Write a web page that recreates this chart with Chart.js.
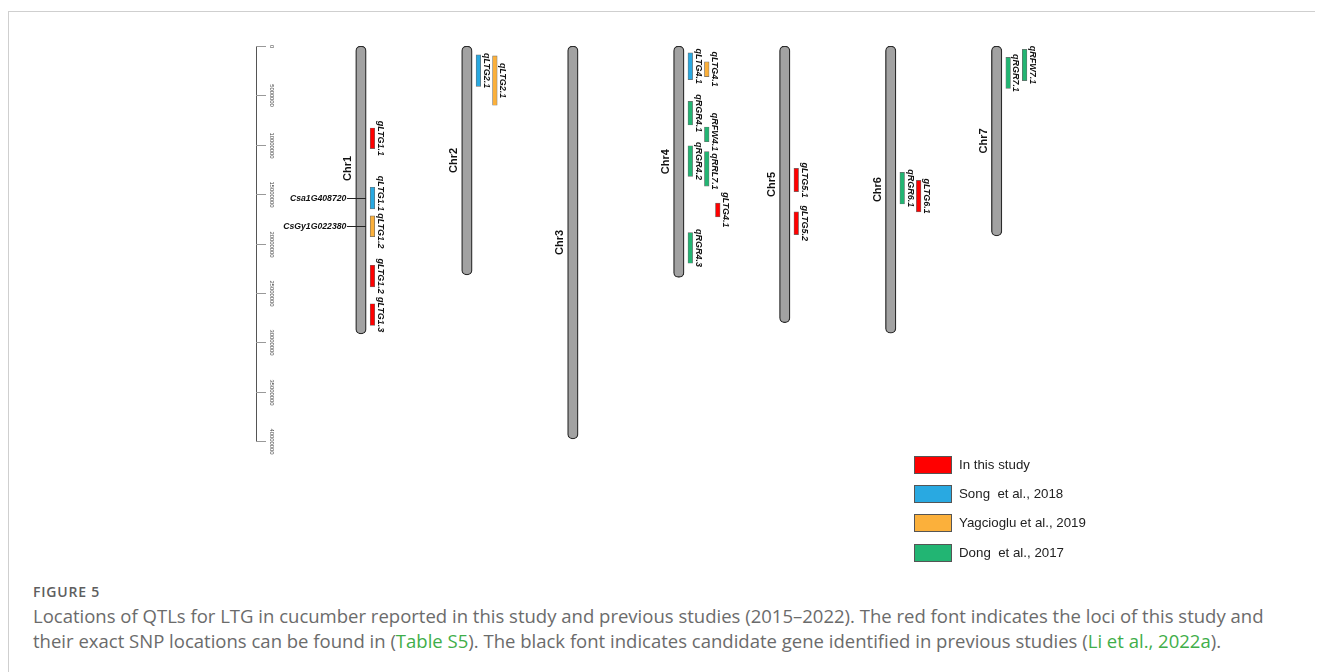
<!DOCTYPE html>
<html>
<head>
<meta charset="utf-8">
<script src="https://cdn.jsdelivr.net/npm/chart.js@4.4.0/dist/chart.umd.min.js"></script>
<style>
  html, body { margin: 0; padding: 0; background: #fff; }
  body { width: 1322px; height: 672px; position: relative; overflow: hidden; }
  #frame { position: absolute; left: 8px; top: 11px; width: 1306px; height: 700px;
           border-top: 1.5px solid #cfcfcf; border-left: 1.5px solid #cfcfcf; }
  #wrap { position: absolute; left: 0; top: 0; width: 1322px; height: 580px; }
  #cap { position: absolute; left: 33px; top: 583px; width: 1285px; color: #6b6b6b;
         font-family: "Open Sans", "Lato", sans-serif; }
  #cap .fig { font-size: 14px; font-weight: 600; color: #5e5e5e; letter-spacing: 0.8px; line-height: 18px; }
  #cap .txt { font-size: 16px; line-height: 25px; margin-top: 2px; white-space: nowrap; }
  #cap a { color: #3fae49; text-decoration: none; }
</style>
</head>
<body>
<div id="frame"></div>
<div id="wrap"><canvas id="chart" width="1322" height="580"></canvas></div>
<div id="cap">
  <div class="fig">FIGURE 5</div>
  <div class="txt"><span id="line1">Locations of QTLs for LTG in cucumber reported in this study and previous studies (2015–2022). The red font indicates the loci of this study and</span><br>their exact SNP locations can be found in (<a>Table S5</a>). The black font indicates candidate gene identified in previous studies (<a>Li et al., 2022a</a>).</div>
</div>
<script>
// chromosomes (bp)
const chrNames = ['Chr1', 'Chr2', 'Chr3', 'Chr4', 'Chr5', 'Chr6', 'Chr7'];
const chrLengths = [29149675, 23174626, 39782674, 23425844, 28023477, 29076228, 19226500];

// axis ticks
const axisTicks = [0, 5000000, 10000000, 15000000, 20000000, 25000000, 30000000, 35000000, 40000000];
const axisTickLabels = ['0', '5000000', '10000000', '15000000', '20000000', '25000000', '30000000', '35000000', '40000000'];

// sources of the QTLs (legend)
const sourceNames = ['In this study', 'Song  et al., 2018', 'Yagcioglu et al., 2019', 'Dong  et al., 2017'];
const sourceColors = ['#ff0000', '#29a9e1', '#fbb03b', '#22b573'];

// QTLs (Mb)
const qtlNames  = ['gLTG1.1', 'qLTG1.1', 'qLTG1.2', 'gLTG1.2', 'gLTG1.3', 'qLTG2.1', 'qLTG2.1', 'qLTG4.1', 'qLTG4.1', 'qRGR4.1', 'qRFW4.1', 'qRGR4.2', 'qRRL7.1', 'gLTG4.1', 'qRGR4.3', 'gLTG5.1', 'gLTG5.2', 'qRGR6.1', 'gLTG6.1', 'qRGR7.1', 'qRFW7.1'];
const qtlChr    = [1, 1, 1, 1, 1, 2, 2, 4, 4, 4, 4, 4, 4, 4, 4, 5, 5, 6, 6, 7, 7];
const qtlStart  = [8.3, 14.3, 17.2, 22.2, 26.1, 0.9, 1.0, 0.7, 1.6, 5.6, 8.2, 10.1, 10.7, 15.9, 18.9, 12.4, 16.8, 12.8, 13.6, 1.15, 0.33];
const qtlEnd    = [10.4, 16.5, 19.3, 24.4, 28.3, 4.1, 6.0, 3.4, 3.1, 8.0, 9.7, 13.2, 14.2, 17.3, 22.0, 14.75, 19.1, 16.0, 16.8, 4.3, 3.5];
const qtlSource = [0, 1, 2, 0, 0, 1, 2, 1, 2, 3, 3, 3, 3, 0, 3, 0, 0, 3, 0, 3, 3];
const qtlTrack  = [1, 1, 1, 1, 1, 1, 2, 1, 2, 1, 2, 1, 2, 3, 1, 1, 1, 1, 2, 1, 2];

// candidate genes
const geneNames = ['Csa1G408720', 'CsGy1G022380'];
const geneChr   = [1, 1];
const genePos   = [15.4, 18.2];

// track offsets from chromosome centre (x units)
const trackOffset = [0, 0.1085, 0.264, 0.368];
const MB = 1000000;

// caption: stretch the first line to the width it has in the figure
(function fitCaption() {
    const line = document.getElementById('line1');
    const txt = document.querySelector('#cap .txt');
    const w = line.getBoundingClientRect().width;
    txt.style.fontSize = (16 * 1231 / w).toFixed(2) + 'px';
})();

const datasets = [{
    label: 'chromosomes',
    data: chrLengths.map((len, i) => ({ x: i + 1, y: [0, len] })),
    backgroundColor: '#a2a2a2',
    borderColor: '#2b2b2b',
    borderWidth: 1.3,
    borderRadius: 5,
    borderSkipped: false,
    barThickness: 10.5,
    grouped: false
}];
sourceNames.forEach((name, s) => {
    const pts = [];
    qtlNames.forEach((q, i) => {
        if (qtlSource[i] !== s) return;
        pts.push({ x: qtlChr[i] + trackOffset[qtlTrack[i]], y: [qtlStart[i] * MB, qtlEnd[i] * MB], name: q, chr: qtlChr[i], track: qtlTrack[i] });
    });
    datasets.push({
        label: name,
        data: pts,
        backgroundColor: sourceColors[s],
        borderColor: '#6b6b6b',
        borderWidth: 0.7,
        borderSkipped: false,
        barThickness: 4.6,
        grouped: false
    });
});

const drawExtras = {
    id: 'drawExtras',
    afterDatasetsDraw(chart) {
        const ctx = chart.ctx;
        const xs = chart.scales.x, ys = chart.scales.y;
        ctx.save();

        // axis
        const ax = chart.chartArea.left + 1;
        ctx.strokeStyle = '#555';
        ctx.lineWidth = 1;
        ctx.beginPath();
        ctx.moveTo(ax + 0.5, ys.getPixelForValue(axisTicks[0]));
        ctx.lineTo(ax + 0.5, ys.getPixelForValue(axisTicks[axisTicks.length - 1]));
        ctx.stroke();
        ctx.strokeStyle = '#999';
        axisTicks.forEach((t, i) => {
            const py = Math.round(ys.getPixelForValue(t)) + 0.5;
            ctx.beginPath();
            ctx.moveTo(ax, py);
            ctx.lineTo(ax + 10, py);
            ctx.stroke();
            ctx.save();
            ctx.translate(ax + 16, py);
            ctx.rotate(Math.PI / 2);
            ctx.font = '5.8px "Liberation Sans", Arial, sans-serif';
            ctx.fillStyle = '#444';
            ctx.textAlign = 'center';
            ctx.textBaseline = 'middle';
            ctx.fillText(axisTickLabels[i], 0, 0);
            ctx.restore();
        });

        // chromosome names
        ctx.font = 'bold 11px "Liberation Sans", Arial, sans-serif';
        ctx.fillStyle = '#111';
        chrNames.forEach((n, i) => {
            const cx = xs.getPixelForValue(i + 1);
            const at = i === 0 ? 12.4 * MB : chrLengths[i] / 2;
            ctx.save();
            ctx.translate(cx - 9.5, ys.getPixelForValue(at));
            ctx.rotate(-Math.PI / 2);
            ctx.textAlign = 'center';
            ctx.textBaseline = 'alphabetic';
            ctx.fillText(n, 0, 0);
            ctx.restore();
        });

        // QTL names, kept apart inside each track
        ctx.font = 'italic bold 9px "Liberation Sans", Arial, sans-serif';
        const groups = {};
        chart.data.datasets.forEach((ds, di) => {
            if (di === 0) return;
            const meta = chart.getDatasetMeta(di);
            ds.data.forEach((d, j) => {
                const el = meta.data[j];
                const key = d.chr + '_' + d.track;
                (groups[key] = groups[key] || []).push({
                    name: d.name,
                    x: el.x + el.width / 2 + 1,
                    c: (ys.getPixelForValue(d.y[0]) + ys.getPixelForValue(d.y[1])) / 2,
                    len: ctx.measureText(d.name).width
                });
            });
        });
        Object.values(groups).forEach(items => {
            items.sort((a, b) => a.c - b.c);
            for (let k = 0; k < 30; k++) {
                for (let i = 1; i < items.length; i++) {
                    const p = items[i - 1], q = items[i];
                    const ov = (p.c + p.len / 2 + 2) - (q.c - q.len / 2);
                    if (ov > 0) { p.c -= ov / 2; q.c += ov / 2; }
                }
            }
            items.forEach(it => {
                ctx.save();
                ctx.translate(it.x, it.c);
                ctx.rotate(Math.PI / 2);
                ctx.fillStyle = '#111';
                ctx.textAlign = 'center';
                ctx.textBaseline = 'bottom';
                ctx.fillText(it.name, 0, 0);
                ctx.restore();
            });
        });

        // candidate genes
        ctx.font = 'italic bold 8.7px "Liberation Sans", Arial, sans-serif';
        geneNames.forEach((g, i) => {
            const cx = xs.getPixelForValue(geneChr[i]);
            const py = Math.round(ys.getPixelForValue(genePos[i] * MB)) + 0.5;
            ctx.strokeStyle = '#222';
            ctx.lineWidth = 1;
            ctx.beginPath();
            ctx.moveTo(cx - 14, py);
            ctx.lineTo(cx + 5, py);
            ctx.stroke();
            ctx.fillStyle = '#111';
            ctx.textAlign = 'right';
            ctx.textBaseline = 'middle';
            ctx.fillText(g, cx - 14.5, py);
        });

        // legend
        const tops = [456, 485, 514, 544];
        ctx.font = '13.3px "Liberation Sans", Arial, sans-serif';
        sourceNames.forEach((n, i) => {
            ctx.fillStyle = sourceColors[i];
            ctx.fillRect(914, tops[i], 38, 18);
            ctx.strokeStyle = '#555';
            ctx.lineWidth = 1;
            ctx.strokeRect(914.5, tops[i] + 0.5, 37, 17);
            ctx.fillStyle = '#222';
            ctx.textAlign = 'left';
            ctx.textBaseline = 'middle';
            ctx.fillText(n, 959, tops[i] + 9.5);
        });
        ctx.restore();
    }
};

new Chart(document.getElementById('chart'), {
    type: 'bar',
    data: { datasets: datasets },
    options: {
        responsive: false,
        animation: false,
        events: [],
        layout: { padding: { left: 255, right: 219.4, top: 46, bottom: 139 } },
        plugins: { legend: { display: false }, tooltip: { enabled: false } },
        scales: {
            x: { type: 'linear', min: 0, max: 8, offset: false, display: false },
            y: { type: 'linear', min: 0, max: 40000000, reverse: true, display: false }
        }
    },
    plugins: [drawExtras]
});
</script>
</body>
</html>
